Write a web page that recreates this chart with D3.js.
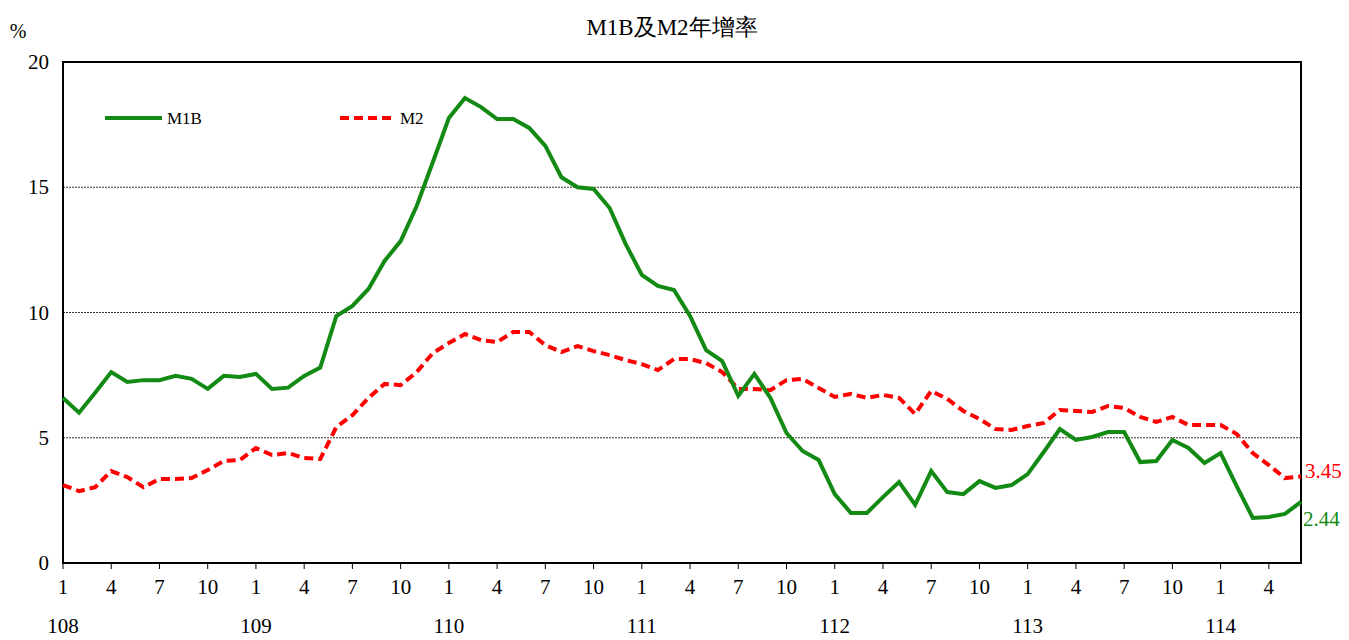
<!DOCTYPE html><html><head><meta charset="utf-8">
<script src="https://cdn.jsdelivr.net/npm/d3@7"></script>
<style>body{margin:0;background:#fff} text{font-family:"Liberation Serif","DejaVu Serif",serif}</style></head><body>
<svg id="c" width="1349" height="640"></svg>
<script>
const m1b=[6.59,6.0,6.8,7.62,7.23,7.3,7.3,7.47,7.35,6.95,7.47,7.43,7.55,6.95,7.0,7.47,7.8,9.86,10.26,10.94,12.06,12.85,14.25,16.0,17.76,18.56,18.2,17.72,17.72,17.37,16.65,15.4,15.0,14.93,14.17,12.73,11.5,11.06,10.9,9.86,8.5,8.06,6.67,7.55,6.59,5.19,4.47,4.11,2.75,2.0,2.0,2.63,3.23,2.32,3.67,2.83,2.75,3.27,3.0,3.11,3.55,4.43,5.35,4.91,5.03,5.23,5.23,4.03,4.07,4.91,4.59,3.99,4.39,3.07,1.8,1.84,1.96,2.44];
const m2=[3.11,2.87,3.03,3.67,3.43,3.03,3.35,3.35,3.39,3.71,4.07,4.11,4.59,4.31,4.39,4.19,4.15,5.43,5.9,6.59,7.15,7.1,7.62,8.38,8.78,9.14,8.9,8.82,9.22,9.22,8.7,8.42,8.66,8.46,8.3,8.1,7.94,7.7,8.14,8.14,7.98,7.62,6.95,6.95,6.9,7.3,7.35,6.99,6.63,6.75,6.59,6.71,6.59,5.95,6.87,6.55,6.07,5.75,5.35,5.31,5.47,5.59,6.11,6.07,6.03,6.27,6.19,5.83,5.63,5.83,5.51,5.51,5.51,5.15,4.39,3.91,3.39,3.45];
const years=["108","109","110","111","112","113","114"];
const monthTicks=["1","4","7","10"];
const yTicks=[0,5,10,15,20];
const svg=d3.select("#c");
const F="'Liberation Serif','DejaVu Serif',serif";
const L=63,R=1301,T=62,B=563;
const x=d3.scaleLinear().domain([0,77]).range([L,R]);
const y=d3.scaleLinear().domain([0,20]).range([B,T]);
svg.selectAll(".g").data([5,10,15]).join("line").attr("x1",L).attr("x2",R).attr("y1",d=>y(d)).attr("y2",d=>y(d)).attr("stroke","#000").attr("stroke-width",0.8).attr("stroke-dasharray","2,1");
svg.append("rect").attr("x",L).attr("y",T).attr("width",R-L).attr("height",B-T).attr("fill","none").attr("stroke","#000").attr("stroke-width",2);
svg.selectAll(".yl").data(yTicks).join("text").attr("font-family",F).attr("x",L-14).attr("y",d=>y(d)+7).attr("text-anchor","end").attr("font-size",21).text(d=>d);
svg.append("text").attr("font-family",F).attr("x",18).attr("y",38).attr("text-anchor","middle").attr("font-size",20).text("%");
const ticks=d3.range(0,78,3);
svg.selectAll(".xt").data(ticks).join("line").attr("x1",d=>x(d)).attr("x2",d=>x(d)).attr("y1",B).attr("y2",B+6).attr("stroke","#000");
svg.selectAll(".xl").data(ticks).join("text").attr("font-family",F).attr("x",d=>x(d)).attr("y",B+31).attr("text-anchor","middle").attr("font-size",21).text(d=>monthTicks[(d%12)/3]);
svg.selectAll(".yr").data(years).join("text").attr("font-family",F).attr("x",(d,i)=>x(i*12)).attr("y",B+70).attr("text-anchor","middle").attr("font-size",21).text(d=>d);
svg.append("text").attr("x",672).attr("y",35).attr("text-anchor","middle").attr("font-size",23).attr("font-family","'Liberation Serif','Noto Serif CJK TC','Noto Sans CJK TC',serif").text("M1B及M2年增率");
const line=d3.line().x((d,i)=>x(i)).y(d=>y(d));
svg.append("path").datum(m2).attr("d",line).attr("fill","none").attr("stroke","#ff0000").attr("stroke-width",4).attr("stroke-dasharray","9,5");
svg.append("path").datum(m1b).attr("d",line).attr("fill","none").attr("stroke","#138a13").attr("stroke-width",4);
svg.append("text").attr("font-family",F).attr("x",x(77)+4).attr("y",y(m2[77])+1).attr("font-size",21).attr("fill","#ff0000").text(m2[77].toFixed(2));
svg.append("text").attr("font-family",F).attr("x",x(77)+2).attr("y",y(m1b[77])+24).attr("font-size",21).attr("fill","#138a13").text(m1b[77].toFixed(2));
svg.append("line").attr("x1",105).attr("x2",162).attr("y1",118).attr("y2",118).attr("stroke","#138a13").attr("stroke-width",4);
svg.append("text").attr("font-family",F).attr("x",167).attr("y",124).attr("font-size",17).text("M1B");
svg.append("line").attr("x1",340).attr("x2",396).attr("y1",118).attr("y2",118).attr("stroke","#ff0000").attr("stroke-width",4).attr("stroke-dasharray","9,5");
svg.append("text").attr("font-family",F).attr("x",400).attr("y",124).attr("font-size",17).text("M2");
</script></body></html>
